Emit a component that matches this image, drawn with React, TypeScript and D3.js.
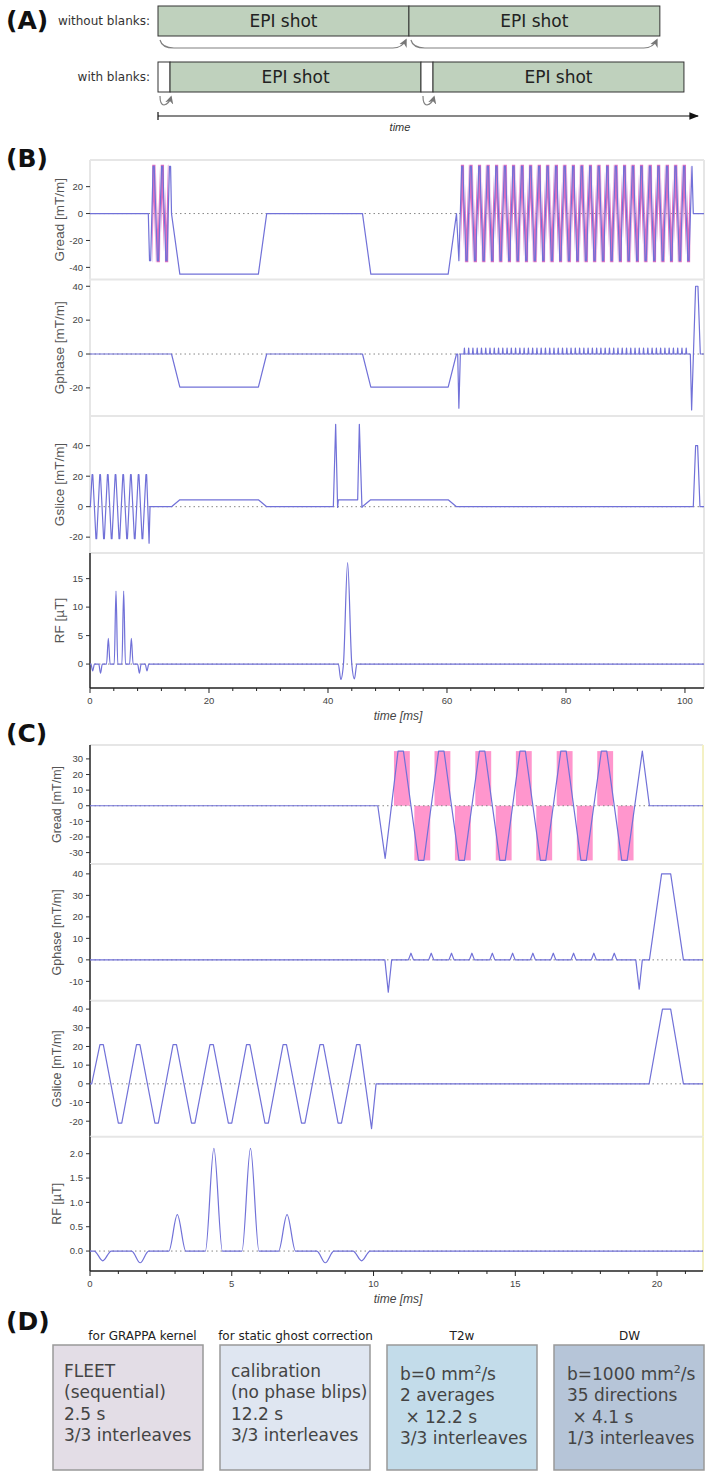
import React from "react";
import * as d3 from "d3";

type Pt = [number, number];

// ---------- (A) shot schematic (arbitrary time units)
const shotLength = 10;
const blankLength = 0.48;
const shotsPerRow = 2;
const shotLabel = "EPI shot";
const rowLabels = ["without blanks:", "with blanks:"];

// ---------- shared excitation (ms)
const exciteRfTimes = [0.45, 1.77, 3.08, 4.37, 5.66, 6.95, 8.3, 9.58];
const exciteRfB = [-1.2, -1.6, 4.5, 12.8, 12.8, 4.5, -1.6, -1.2];
const exciteRfC = [-0.2, -0.24, 0.75, 2.11, 2.11, 0.75, -0.24, -0.2];
const sliceLobeTimes = [0.41, 1.06, 1.7, 2.35, 2.99, 3.64, 4.29, 4.94, 5.58, 6.23, 6.87, 7.52, 8.17, 8.81, 9.46];
const sliceAmp = 21;
const sliceRewinder: Pt[] = [[9.93, -24], [10.09, 0]];

const readAmp = 35;
const readFlat = 0.19;
const sliceFlat = 0.12;
const adcBefore = 0.24;
const adcAfter = 0.32;

// ---------- (B) full sequence
const navLobesB = [10.1, 10.7, 11.42, 12.13, 12.85, 13.45];
const navAdcB = [false, true, true, true, true, false];
const epiLobesB = [
  62.57, 63.29, 64.0, 64.72, 65.44, 66.16, 66.87, 67.59, 68.31, 69.02, 69.74, 70.46, 71.17, 71.89,
  72.61, 73.33, 74.04, 74.76, 75.48, 76.19, 76.91, 77.63, 78.34, 79.06, 79.78, 80.5, 81.21, 81.93,
  82.65, 83.36, 84.08, 84.8, 85.51, 86.23, 86.95, 87.67, 88.38, 89.1, 89.82, 90.53, 91.25, 91.97,
  92.68, 93.4, 94.12, 94.84, 95.55, 96.27, 96.99, 97.7, 98.42, 99.14, 99.85, 100.57,
];
const greadBStart: Pt[] = [[0, 0], [9.8, 0]];
const greadBMid: Pt[] = [[13.7, 0], [15.1, -45], [28.3, -45], [29.7, 0], [45.8, 0], [47.2, -45], [60.2, -45], [61.6, 0], [62.0, -35]];
const greadBEnd: Pt[] = [[101.18, 35], [101.4, 0], [103.2, 0]];
const gphaseBStart: Pt[] = [[0, 0], [13.7, 0], [15.1, -19.5], [28.3, -19.5], [29.7, 0], [45.8, 0], [47.2, -19.5], [60.2, -19.5], [61.6, 0], [61.8, 0], [62.0, -32], [62.25, 0]];
const gphaseBEnd: Pt[] = [[100.9, 0], [101.12, -33], [101.79, 40], [102.18, 40], [102.58, 0], [103.2, 0]];
const blipAmpB = 3.5;
const gsliceBRest: Pt[] = [
  [13.7, 0], [15.1, 4.5], [28.3, 4.5], [29.7, 0], [40.9, 0], [41.29, 54], [41.62, -0.5], [41.74, 4.5],
  [44.99, 4.5], [45.27, 54], [45.71, -0.5], [45.76, 0], [47.17, 4.5], [60.2, 4.5], [61.6, 0],
  [101.4, 0], [101.79, 40], [102.13, 40], [102.52, 0], [103.2, 0],
];
const refocusRfB: Pt[] = [[41.75, 0], [42.15, -2.7], [42.6, 0], [43.3, 17.8], [44.0, 0], [44.45, -2.6], [44.85, 0]];

// ---------- (C) calibration sequence
const epiLobesC = [10.96, 11.68, 12.39, 13.11, 13.83, 14.55, 15.26, 15.98, 16.7, 17.41, 18.13, 18.85];
const greadCStart: Pt[] = [[0, 0], [10.15, 0], [10.41, -33.7]];
const greadCEnd: Pt[] = [[19.48, 35], [19.73, 0], [21.62, 0]];
const gphaseCStart: Pt[] = [[0, 0], [10.4, 0], [10.52, -15], [10.64, 0]];
const gphaseCEnd: Pt[] = [[19.25, 0], [19.37, -13.6], [19.48, 0], [19.73, 0], [20.16, 40], [20.48, 40], [20.93, 0], [21.62, 0]];
const blipAmpC = 3.1;
const gsliceCRest: Pt[] = [[19.72, 0], [20.19, 40], [20.48, 40], [20.93, 0], [21.62, 0]];

// ---------- (D) protocol boxes
const protocolTitles = ["for GRAPPA kernel", "for static ghost correction", "T2w", "DW"];
const protocolLines = [
  ["FLEET", "(sequential)", "2.5 s", "3/3 interleaves"],
  ["calibration", "(no phase blips)", "12.2 s", "3/3 interleaves"],
  ["b=0 mm^2/s", "2 averages", " \u00d7 12.2 s", "3/3 interleaves"],
  ["b=1000 mm^2/s", "35 directions", " \u00d7 4.1 s", "1/3 interleaves"],
];
const protocolFills = ["#e3dde6", "#dfe6f1", "#c3dcea", "#b6c5d8"];

// ---------- helpers: breakpoints built from the lists above
const lobePoints = (centres: number[], amp: number, flat: number, firstSign: number): Pt[] =>
  centres.flatMap((t, i) => {
    const g = (i % 2 === 0 ? firstSign : -firstSign) * amp;
    return [[t - flat / 2, g], [t + flat / 2, g]] as Pt[];
  });

const blipPoints = (centres: number[], amp: number, half: number): Pt[] =>
  centres.slice(1).flatMap((t, i) => {
    const m = (centres[i] + t) / 2;
    return [[m - half, 0], [m, amp], [m + half, 0]] as Pt[];
  });

const bumpPoints = (times: number[], amps: number[], half: number): Pt[] =>
  times.flatMap((t, i) => [[t - half, 0], [t, amps[i]], [t + half, 0]] as Pt[]);

type Adc = { t0: number; t1: number; g: number };
const adcWindows = (centres: number[], firstSign: number, on?: boolean[]): Adc[] =>
  centres
    .map((t, i) => ({ t0: t - adcBefore, t1: t + adcAfter, g: (i % 2 === 0 ? firstSign : -firstSign) * readAmp, keep: on ? on[i] : true }))
    .filter((d) => d.keep)
    .map(({ t0, t1, g }) => ({ t0, t1, g }));

const sliceExcite: Pt[] = [[0, 0], [0.06, 0], ...lobePoints(sliceLobeTimes, sliceAmp, sliceFlat, 1), ...sliceRewinder];

const greadB: Pt[] = [...greadBStart, ...lobePoints(navLobesB, readAmp, readFlat, -1), ...greadBMid, ...lobePoints(epiLobesB, readAmp, readFlat, 1), ...greadBEnd];
const gphaseB: Pt[] = [...gphaseBStart, ...blipPoints(epiLobesB, blipAmpB, 0.08), ...gphaseBEnd];
const gsliceB: Pt[] = [...sliceExcite, ...gsliceBRest];
const rfB: Pt[] = [[0, 0], ...bumpPoints(exciteRfTimes, exciteRfB, 0.3), ...refocusRfB, [103.2, 0]];
const adcB: Adc[] = [...adcWindows(navLobesB, -1, navAdcB), ...adcWindows(epiLobesB, 1)];

const greadC: Pt[] = [...greadCStart, ...lobePoints(epiLobesC, readAmp, readFlat, 1), ...greadCEnd];
const gphaseC: Pt[] = [...gphaseCStart, ...blipPoints(epiLobesC, blipAmpC, 0.09), ...gphaseCEnd];
const gsliceC: Pt[] = [...sliceExcite, ...gsliceCRest];
const rfC: Pt[] = [[0, 0], ...bumpPoints(exciteRfTimes, exciteRfC, 0.3), [21.62, 0]];
const adcC: Adc[] = adcWindows(epiLobesC, 1);

const WAVE = "#7171d8";
const PINK = "#ff96cd";
const PINK_LINE = "#de6ec0";
const SANS = "'Liberation Sans', Arial, sans-serif";
const DJV = "'DejaVu Sans', sans-serif";

type StripSpec = {
  id: string;
  label: string;
  y0: number;
  y1: number;
  domain: [number, number];
  ticks: number[];
  pts: Pt[];
  smooth?: boolean;
  adc?: Adc[];
  adcMode?: "rect" | "line";
  darkLeft?: boolean;
  fmt?: (v: number) => string;
};

function Panel(props: {
  xDomain: [number, number];
  xRange: [number, number];
  strips: StripSpec[];
  major: number[];
  minor: number[];
  labelX: number;
  labelSize: number;
  rightColor: string;
}) {
  const { xDomain, xRange, strips, major, minor, labelX, labelSize, rightColor } = props;
  const xs = d3.scaleLinear().domain(xDomain).range(xRange);
  const [xl, xr] = xRange;
  const axisY = strips[strips.length - 1].y1;
  return (
    <g>
      {strips.map((s, i) => {
        const ys = d3.scaleLinear().domain(s.domain).range([s.y1, s.y0]);
        const line = d3
          .line<Pt>()
          .x((d) => xs(d[0]))
          .y((d) => ys(d[1]))
          .curve(s.smooth ? d3.curveMonotoneX : d3.curveLinear);
        const fmt = s.fmt ?? ((v: number) => String(v));
        const d = line(s.pts) ?? "";
        const adc = s.adc ?? [];
        return (
          <g key={i}>
            <line x1={xl} x2={xr} y1={s.y0} y2={s.y0} stroke="#e6e6e6" strokeWidth={2} />
            <line x1={xr} x2={xr} y1={s.y0} y2={s.y1} stroke={rightColor} strokeWidth={2} />
            <line x1={xl} x2={xl} y1={s.y0} y2={s.y1} stroke={s.darkLeft ? "#222" : "#e6e6e6"} strokeWidth={s.darkLeft ? 1.5 : 2} />
            {s.adcMode !== "line" &&
              adc.map((a, k) => (
                <rect key={k} x={xs(a.t0)} width={xs(a.t1) - xs(a.t0)} y={Math.min(ys(0), ys(a.g))} height={Math.abs(ys(a.g) - ys(0))} fill={PINK} />
              ))}
            <line x1={xl} x2={xr} y1={ys(0)} y2={ys(0)} stroke="#888" strokeWidth={1} strokeDasharray="1.5 3" />
            {s.adcMode === "line" && (
              <>
                <clipPath id={"adc-" + s.id}>
                  {adc.map((a, k) => (
                    <rect key={k} x={xs(a.t0)} width={xs(a.t1) - xs(a.t0)} y={s.y0} height={s.y1 - s.y0} />
                  ))}
                </clipPath>
                <path d={d} fill="none" stroke={PINK_LINE} strokeWidth={3.2} clipPath={`url(#adc-${s.id})`} />
              </>
            )}
            <path d={d} fill="none" stroke={WAVE} strokeWidth={1.2} strokeLinejoin="round" />
            {s.ticks.map((t) => (
              <g key={t}>
                <line x1={xl - 4} x2={xl} y1={ys(t)} y2={ys(t)} stroke="#333" strokeWidth={1} />
                <text x={xl - 7} y={ys(t)} dy="0.35em" textAnchor="end" fontSize={9.5} fontFamily={SANS} fill="#444">
                  {fmt(t)}
                </text>
              </g>
            ))}
            <text
              transform={`translate(${labelX},${(s.y0 + s.y1) / 2}) rotate(-90)`}
              textAnchor="middle"
              fontSize={labelSize}
              fontFamily={SANS}
              fill="#555"
            >
              {s.label}
            </text>
          </g>
        );
      })}
      <line x1={xl} x2={xr} y1={axisY} y2={axisY} stroke="#222" strokeWidth={1.5} />
      {minor.map((t) => (
        <line key={"m" + t} x1={xs(t)} x2={xs(t)} y1={axisY} y2={axisY + 3} stroke="#222" strokeWidth={1} />
      ))}
      {major.map((t) => (
        <g key={"M" + t}>
          <line x1={xs(t)} x2={xs(t)} y1={axisY} y2={axisY + 5} stroke="#222" strokeWidth={1} />
          <text x={xs(t)} y={axisY + 16} textAnchor="middle" fontSize={9.5} fontFamily={SANS} fill="#444">
            {t}
          </text>
        </g>
      ))}
      <text x={398} y={axisY + 32} textAnchor="middle" fontSize={12} fontStyle="italic" fontFamily={SANS} fill="#444">
        time [ms]
      </text>
    </g>
  );
}

const superLine = (s: string) => {
  const parts = s.split("^2");
  if (parts.length === 1) return s;
  return (
    <>
      {parts[0]}
      <tspan dy={-7} fontSize={11}>2</tspan>
      <tspan dy={7}>{parts[1]}</tspan>
    </>
  );
};

export default function App() {
  // (A)
  const xA = d3.scaleLinear().domain([0, 21.6]).range([158, 700]);
  const row1 = d3.range(shotsPerRow).map((i) => [i * shotLength, (i + 1) * shotLength]);
  const row2 = d3.range(shotsPerRow).map((i) => {
    const s = i * (shotLength + blankLength);
    return { blank: [s, s + blankLength], shot: [s + blankLength, s + blankLength + shotLength] };
  });

  const bTicksMajor = [0, 20, 40, 60, 80, 100];
  const bTicksMinor = d3.range(4, 104, 4).filter((t) => t % 20 !== 0);
  const cTicksMajor = [0, 5, 10, 15, 20];
  const cTicksMinor = d3.range(1, 22, 1).filter((t) => t % 5 !== 0);

  const stripsB: StripSpec[] = [
    { id: "bread", label: "Gread [mT/m]", y0: 160, y1: 279.5, domain: [-49, 39.8], ticks: [20, 0, -20, -40], pts: greadB, adc: adcB, adcMode: "line" },
    { id: "bphase", label: "Gphase [mT/m]", y0: 279.5, y1: 416, domain: [-36.6, 44], ticks: [40, 20, 0, -20], pts: gphaseB },
    { id: "bslice", label: "Gslice [mT/m]", y0: 416, y1: 553, domain: [-30.4, 59.5], ticks: [40, 20, 0, -20], pts: gsliceB },
    { id: "brf", label: "RF [\u00b5T]", y0: 553, y1: 688, domain: [-4.2, 19.5], ticks: [15, 10, 5, 0], pts: rfB, smooth: true, darkLeft: true },
  ];
  const stripsC: StripSpec[] = [
    { id: "cread", label: "Gread [mT/m]", y0: 745, y1: 864, domain: [-37.3, 38.9], ticks: [30, 20, 10, 0, -10, -20, -30], pts: greadC, adc: adcC, adcMode: "rect", darkLeft: true },
    { id: "cphase", label: "Gphase [mT/m]", y0: 864, y1: 1000.7, domain: [-19, 44.6], ticks: [40, 30, 20, 10, 0, -10], pts: gphaseC, darkLeft: true },
    { id: "cslice", label: "Gslice [mT/m]", y0: 1000.7, y1: 1136.7, domain: [-28.3, 44.5], ticks: [40, 30, 20, 10, 0, -10, -20], pts: gsliceC, darkLeft: true },
    { id: "crf", label: "RF [\u00b5T]", y0: 1136.7, y1: 1271, domain: [-0.41, 2.35], ticks: [2, 1.5, 1, 0.5, 0], pts: rfC, smooth: true, darkLeft: true, fmt: d3.format(".1f") },
  ];

  const boxX = [53, 220, 387, 554];
  const boxW = 150;
  const titleX = [142.5, 295.5, 462, 629.5];
  const textOffset = [32, 32, 35, 35];

  return (
    <svg width={709} height={1471} style={{ position: "absolute", left: 0, top: 0, background: "#fff" }}>
      <defs>
        <marker id="greyHead" viewBox="0 0 10 10" refX={8} refY={5} markerWidth={7} markerHeight={7} orient="auto">
          <path d="M0,0 L10,5 L0,10 L3,5 z" fill="#777" />
        </marker>
        <marker id="blackHead" viewBox="0 0 10 10" refX={9} refY={5} markerWidth={8} markerHeight={8} orient="auto">
          <path d="M0,1 L10,5 L0,9 z" fill="#111" />
        </marker>
      </defs>

      {/* panel letters */}
      {[["(A)", 29], ["(B)", 167], ["(C)", 742], ["(D)", 1330]].map(([t, y]) => (
        <text key={t as string} x={6} y={y as number} fontSize={25} fontWeight="bold" fontFamily={DJV} fill="#111">
          {t}
        </text>
      ))}

      {/* (A) */}
      <text x={150} y={25} textAnchor="end" fontSize={12} fontFamily={DJV} fill="#333">{rowLabels[0]}</text>
      <text x={150} y={81} textAnchor="end" fontSize={12} fontFamily={DJV} fill="#333">{rowLabels[1]}</text>
      {row1.map(([a, b], i) => (
        <g key={"r1" + i}>
          <rect x={xA(a)} y={6} width={xA(b) - xA(a)} height={30} fill="#bfd1bd" stroke="#333" strokeWidth={1} />
          <text x={(xA(a) + xA(b)) / 2} y={27} textAnchor="middle" fontSize={17} fontFamily={DJV} fill="#222">{shotLabel}</text>
          <path
            d={`M${xA(a) + 2},40 Q${xA(a) + 4},48 ${xA(a) + 16},48 L${xA(b) - 16},48 Q${xA(b) - 7},48 ${xA(b) - 3},40`}
            fill="none"
            stroke="#808080"
            strokeWidth={1.2}
            markerEnd="url(#greyHead)"
          />
        </g>
      ))}
      {row2.map((r, i) => (
        <g key={"r2" + i}>
          <rect x={xA(r.blank[0])} y={62} width={xA(r.blank[1]) - xA(r.blank[0])} height={30} fill="#fff" stroke="#333" strokeWidth={1} />
          <rect x={xA(r.shot[0])} y={62} width={xA(r.shot[1]) - xA(r.shot[0])} height={30} fill="#bfd1bd" stroke="#333" strokeWidth={1} />
          <text x={(xA(r.shot[0]) + xA(r.shot[1])) / 2} y={83} textAnchor="middle" fontSize={17} fontFamily={DJV} fill="#222">{shotLabel}</text>
          <path
            d={`M${xA(r.blank[0]) + 2},96 Q${xA(r.blank[0]) + 2},105 ${xA(r.blank[0]) + 6},105 Q${xA(r.blank[1]) - 1},104 ${xA(r.blank[1]) + 1},97`}
            fill="none"
            stroke="#808080"
            strokeWidth={1.2}
            markerEnd="url(#greyHead)"
          />
        </g>
      ))}
      <line x1={xA(0)} x2={xA(21.6) - 2} y1={116} y2={116} stroke="#111" strokeWidth={1.2} markerEnd="url(#blackHead)" />
      <line x1={xA(0)} x2={xA(0)} y1={112} y2={120} stroke="#111" strokeWidth={1.2} />
      <text x={400} y={131} textAnchor="middle" fontSize={11} fontStyle="italic" fontFamily={SANS} fill="#333">time</text>

      {/* (B) */}
      <Panel xDomain={[0, 103.2]} xRange={[90, 704]} strips={stripsB} major={bTicksMajor} minor={bTicksMinor} labelX={64} labelSize={13.5} rightColor="#e6e6e6" />

      {/* (C) */}
      <Panel xDomain={[0, 21.62]} xRange={[90, 703]} strips={stripsC} major={cTicksMajor} minor={cTicksMinor} labelX={61} labelSize={12.5} rightColor="#f4f1c4" />

      {/* (D) */}
      {protocolTitles.map((t, i) => (
        <g key={"d" + i}>
          <text x={titleX[i]} y={1340} textAnchor="middle" fontSize={12} fontFamily={DJV} fill="#222">{t}</text>
          <rect x={boxX[i]} y={1345} width={boxW} height={125} fill={protocolFills[i]} stroke="#999" strokeWidth={1.5} />
          {protocolLines[i].map((l, k) => (
            <text
              key={k}
              x={boxX[i] + (i < 2 ? 11 : 13)}
              y={1345 + textOffset[i] + k * 21.3}
              fontSize={17}
              fontFamily={DJV}
              fill="#444"
              style={{ whiteSpace: "pre" }}
            >
              {superLine(l)}
            </text>
          ))}
        </g>
      ))}
    </svg>
  );
}
